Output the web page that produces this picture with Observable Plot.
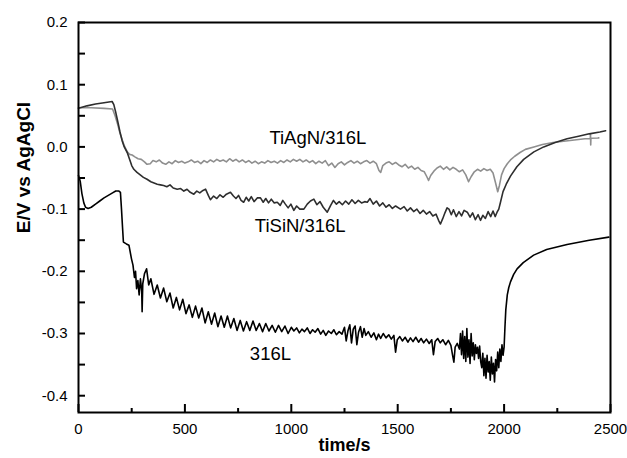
<!DOCTYPE html>
<html><head><meta charset="utf-8">
<script src="https://cdn.jsdelivr.net/npm/d3@7"></script>
<script src="https://cdn.jsdelivr.net/npm/@observablehq/plot@0.6"></script>
<style>
html,body{margin:0;padding:0;background:#fff;}
#chart svg{display:block;}
</style></head><body><div id="chart"></div>
<script>
// ---- data (time / s, potential E / V vs Ag/AgCl) ----
const tiagnTime = [0,60,120,160,172,185,195,205,215,229,240,252,265,280,295,310,322,337,350,365,380,395,410,425,440,455,470,485,500,515,530,545,560,575,590,605,620,635,650,665,680,695,710,725,740,755,770,785,800,815,830,845,860,875,890,905,920,935,950,965,980,995,1010,1025,1040,1055,1070,1085,1100,1115,1130,1145,1160,1175,1190,1205,1220,1235,1250,1265,1280,1295,1310,1325,1340,1355,1370,1385,1400,1412,1420,1430,1445,1460,1475,1490,1505,1520,1535,1550,1565,1580,1595,1610,1625,1637,1645,1655,1670,1685,1700,1715,1730,1745,1760,1775,1790,1805,1820,1833,1845,1860,1875,1890,1905,1920,1935,1948,1960,1970,1978,1988,2000,2015,2030,2050,2075,2100,2140,2180,2230,2280,2330,2380,2405,2406,2407,2408,2440,2445];
const tiagnE = [0.063,0.063,0.062,0.061,0.05,0.035,0.022,0.012,0.002,-0.008,-0.012,-0.013,-0.016,-0.019,-0.02,-0.024,-0.028,-0.027,-0.022,-0.024,-0.021,-0.026,-0.028,-0.024,-0.027,-0.022,-0.025,-0.023,-0.026,-0.024,-0.021,-0.025,-0.023,-0.027,-0.022,-0.025,-0.021,-0.024,-0.02,-0.023,-0.021,-0.024,-0.019,-0.023,-0.02,-0.024,-0.021,-0.025,-0.022,-0.026,-0.023,-0.027,-0.024,-0.026,-0.022,-0.025,-0.023,-0.026,-0.022,-0.025,-0.021,-0.024,-0.02,-0.023,-0.02,-0.024,-0.021,-0.025,-0.022,-0.027,-0.023,-0.026,-0.022,-0.03,-0.026,-0.033,-0.027,-0.024,-0.029,-0.025,-0.022,-0.026,-0.023,-0.027,-0.024,-0.022,-0.026,-0.023,-0.027,-0.038,-0.041,-0.03,-0.026,-0.024,-0.028,-0.025,-0.029,-0.032,-0.028,-0.034,-0.031,-0.036,-0.033,-0.038,-0.04,-0.048,-0.054,-0.046,-0.039,-0.034,-0.031,-0.036,-0.032,-0.037,-0.033,-0.036,-0.04,-0.037,-0.045,-0.056,-0.048,-0.04,-0.036,-0.039,-0.035,-0.038,-0.036,-0.042,-0.058,-0.072,-0.062,-0.045,-0.035,-0.027,-0.021,-0.015,-0.009,-0.004,0.0,0.004,0.007,0.009,0.011,0.013,0.0135,0.021,0.003,0.014,0.0143,0.0145];

const tisinTime = [0,40,80,120,158,166,174,185,195,205,215,229,240,250,260,275,290,305,322,340,355,370,385,400,415,430,445,464,480,495,510,525,542,556,570,585,597,610,620,635,650,665,680,695,714,728,740,752,764,776,788,800,812,825,840,855,868,880,893,906,920,934,948,960,972,985,998,1012,1025,1040,1059,1075,1090,1106,1120,1135,1150,1169,1185,1198,1212,1225,1240,1255,1270,1285,1300,1315,1330,1345,1357,1370,1385,1400,1415,1430,1445,1460,1475,1490,1513,1530,1545,1560,1575,1590,1605,1620,1635,1650,1665,1680,1692,1701,1712,1722,1732,1741,1752,1762,1775,1788,1800,1812,1827,1840,1852,1865,1878,1889,1900,1912,1925,1937,1948,1958,1967,1975,1983,1995,2010,2030,2060,2092,2140,2186,2240,2296,2350,2400,2450,2477];
const tisinE = [0.062,0.066,0.069,0.071,0.073,0.068,0.057,0.04,0.024,0.01,0.0,-0.009,-0.02,-0.03,-0.036,-0.041,-0.045,-0.049,-0.052,-0.056,-0.058,-0.06,-0.061,-0.062,-0.064,-0.061,-0.066,-0.068,-0.067,-0.071,-0.068,-0.073,-0.076,-0.071,-0.074,-0.07,-0.068,-0.078,-0.085,-0.079,-0.083,-0.077,-0.081,-0.076,-0.073,-0.079,-0.083,-0.078,-0.086,-0.089,-0.081,-0.087,-0.08,-0.088,-0.082,-0.082,-0.089,-0.083,-0.09,-0.084,-0.09,-0.089,-0.094,-0.086,-0.092,-0.098,-0.092,-0.102,-0.095,-0.1,-0.1,-0.092,-0.087,-0.084,-0.093,-0.088,-0.097,-0.105,-0.094,-0.086,-0.092,-0.088,-0.093,-0.087,-0.092,-0.085,-0.091,-0.086,-0.09,-0.088,-0.089,-0.083,-0.092,-0.087,-0.095,-0.09,-0.097,-0.093,-0.099,-0.095,-0.1,-0.096,-0.103,-0.098,-0.104,-0.1,-0.107,-0.102,-0.108,-0.104,-0.111,-0.108,-0.118,-0.124,-0.115,-0.106,-0.098,-0.1,-0.109,-0.101,-0.112,-0.104,-0.111,-0.102,-0.105,-0.113,-0.106,-0.117,-0.109,-0.118,-0.11,-0.115,-0.104,-0.112,-0.103,-0.112,-0.105,-0.1,-0.089,-0.072,-0.06,-0.047,-0.032,-0.02,-0.008,0.0,0.007,0.013,0.017,0.021,0.024,0.026];

const ss316Time = [0,8,16,25,33,45,60,80,100,120,140,160,175,190,197,202,207,211,225,237,249,256,263,268,273,279,285,291,297,299,302,310,320,330,340,355,370,385,400,415,430,445,460,475,490,505,520,535,550,565,580,595,610,625,640,655,670,685,700,715,730,745,760,775,790,805,820,835,850,865,880,895,910,925,940,955,970,985,1000,1012,1025,1038,1050,1062,1075,1088,1100,1112,1125,1138,1150,1162,1175,1188,1200,1212,1225,1238,1250,1258,1266,1275,1283,1291,1300,1308,1316,1325,1333,1342,1350,1362,1375,1388,1400,1410,1420,1432,1445,1458,1470,1482,1490,1498,1510,1522,1535,1548,1560,1572,1585,1598,1610,1622,1635,1648,1660,1668,1676,1688,1700,1712,1725,1738,1750,1758,1764,1770,1780,1790,1795,1800,1805,1810,1815,1820,1825,1830,1835,1840,1845,1850,1855,1860,1865,1870,1875,1880,1885,1890,1895,1900,1905,1910,1915,1920,1925,1930,1935,1940,1945,1950,1955,1960,1965,1970,1975,1980,1985,1990,1995,2000,2004,2008,2015,2022,2030,2045,2061,2090,2139,2200,2296,2400,2492];
const ss316E = [-0.046,-0.055,-0.075,-0.09,-0.097,-0.099,-0.097,-0.092,-0.087,-0.082,-0.078,-0.074,-0.071,-0.071,-0.073,-0.1,-0.13,-0.153,-0.156,-0.158,-0.18,-0.19,-0.21,-0.2,-0.228,-0.215,-0.238,-0.212,-0.232,-0.265,-0.22,-0.204,-0.196,-0.222,-0.212,-0.237,-0.222,-0.243,-0.227,-0.249,-0.235,-0.259,-0.242,-0.262,-0.245,-0.268,-0.254,-0.274,-0.256,-0.275,-0.259,-0.283,-0.265,-0.285,-0.267,-0.289,-0.272,-0.29,-0.272,-0.291,-0.276,-0.295,-0.279,-0.296,-0.281,-0.295,-0.28,-0.295,-0.284,-0.297,-0.284,-0.296,-0.287,-0.298,-0.287,-0.297,-0.288,-0.3,-0.29,-0.296,-0.291,-0.299,-0.293,-0.297,-0.291,-0.3,-0.294,-0.298,-0.292,-0.301,-0.295,-0.303,-0.296,-0.3,-0.294,-0.302,-0.297,-0.301,-0.29,-0.312,-0.296,-0.286,-0.315,-0.293,-0.288,-0.318,-0.298,-0.289,-0.306,-0.292,-0.303,-0.297,-0.306,-0.299,-0.31,-0.301,-0.308,-0.3,-0.307,-0.302,-0.309,-0.303,-0.33,-0.31,-0.305,-0.312,-0.306,-0.314,-0.307,-0.313,-0.306,-0.314,-0.308,-0.315,-0.309,-0.316,-0.31,-0.334,-0.313,-0.308,-0.315,-0.31,-0.318,-0.311,-0.319,-0.335,-0.346,-0.322,-0.316,-0.325,-0.3,-0.334,-0.296,-0.34,-0.305,-0.345,-0.292,-0.338,-0.31,-0.348,-0.3,-0.336,-0.315,-0.342,-0.318,-0.332,-0.322,-0.34,-0.32,-0.345,-0.355,-0.332,-0.368,-0.34,-0.372,-0.335,-0.362,-0.345,-0.375,-0.338,-0.365,-0.348,-0.378,-0.342,-0.36,-0.33,-0.355,-0.325,-0.345,-0.318,-0.335,-0.322,-0.29,-0.262,-0.238,-0.226,-0.217,-0.205,-0.196,-0.186,-0.174,-0.165,-0.157,-0.15,-0.145];

const seriesNames = ["TiAgN/316L", "TiSiN/316L", "316L"];
const seriesColors = ["#8f8f8f", "#2e2e2e", "#000000"];
const labelTime = [1125, 1042, 902];
const labelE = [0.0135, -0.128, -0.333];

const xMajorTicks = [0, 500, 1000, 1500, 2000, 2500];
const xMinorTicks = [250, 750, 1250, 1750, 2250];
const yMajorTicks = [-0.4, -0.3, -0.2, -0.1, 0, 0.1, 0.2];
const yMinorTicks = [-0.35, -0.25, -0.15, -0.05, 0.05, 0.15];

const xTitle = "time/s";
const yTitle = "E/V vs AgAgCl";

const xDomain = [0, 2500];
const yDomain = [-0.427, 0.2];

// ---- build rows ----
const rows = [];
[[tiagnTime, tiagnE], [tisinTime, tisinE], [ss316Time, ss316E]].forEach(([T, E], k) => {
  T.forEach((t, i) => rows.push({series: seriesNames[k], t, e: E[i]}));
});
const labels = seriesNames.map((s, i) => ({s, t: labelTime[i], e: labelE[i]}));

const font = "Liberation Sans, Arial, Helvetica, sans-serif";
const W = 627, H = 458, ML = 78, MR = 17, MT = 22, MB = 46;
const innerW = W - ML - MR, innerH = H - MT - MB;

const chart = Plot.plot({
  width: W,
  height: H,
  marginLeft: ML,
  marginRight: MR,
  marginTop: MT,
  marginBottom: MB,
  style: {fontFamily: font, background: "#fff", color: "#000"},
  x: {domain: xDomain},
  y: {domain: yDomain},
  color: {domain: seriesNames, range: seriesColors},
  marks: [
    Plot.axisY(yMajorTicks, {tickSize: 0, tickPadding: 11, fontSize: 15, tickFormat: d => d.toFixed(1), label: null}),
    Plot.axisX(xMajorTicks, {tickSize: 0, tickPadding: 11, fontSize: 15, tickFormat: d => String(d), label: null}),
    // inward ticks (length set by insets, in pixels)
    Plot.tickY(yMajorTicks.concat(yMinorTicks), {y: d => d, insetRight: innerW - 7, stroke: "#000", strokeWidth: 2}),
    Plot.tickX(xMajorTicks, {x: d => d, insetTop: innerH - 8, stroke: "#000", strokeWidth: 2}),
    Plot.tickX(xMinorTicks, {x: d => d, insetTop: innerH - 4, stroke: "#000", strokeWidth: 2}),
    Plot.line(rows, {x: "t", y: "e", z: "series", stroke: "series", strokeWidth: 1.6, strokeLinejoin: "round"}),
    Plot.text(labels, {x: "t", y: "e", text: "s", fontSize: 18.5, fill: "#000"}),
    Plot.text([xTitle], {frameAnchor: "bottom", textAnchor: "middle", dy: 38, fontSize: 18, fontWeight: "bold", fill: "#000"}),
    Plot.text([yTitle], {frameAnchor: "left", textAnchor: "middle", dx: -55, dy: -50, rotate: -90, fontSize: 19, fontWeight: "bold", fill: "#000"}),
    Plot.frame({stroke: "#000", strokeWidth: 2})
  ]
});
document.getElementById("chart").appendChild(chart);
</script></body></html>
